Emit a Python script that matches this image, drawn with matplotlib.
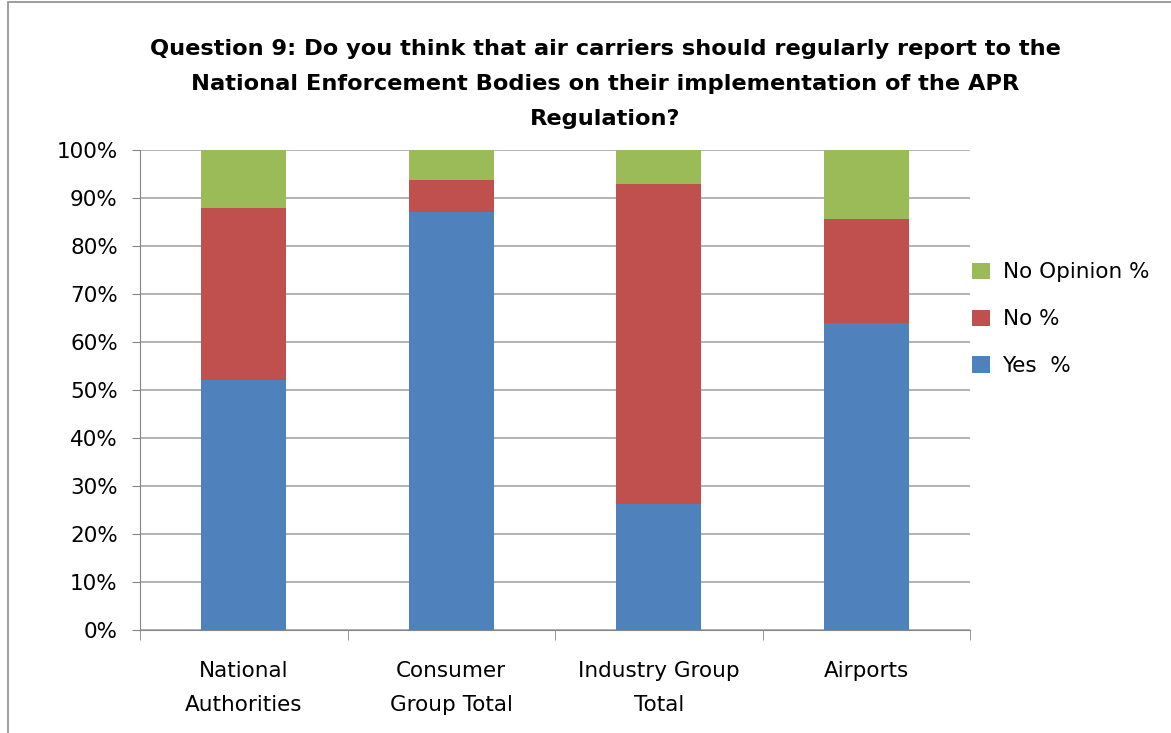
import numpy as np
import matplotlib
matplotlib.use("Agg")
from matplotlib import pyplot as plt
from matplotlib.patches import Rectangle

categories = ["National\nAuthorities", "Consumer\nGroup Total", "Industry Group\nTotal", "Airports"]
yes_pct = [52.0, 87.1, 26.3, 63.9]
no_pct = [36.0, 6.6, 66.6, 21.7]
no_opinion_pct = [12.0, 6.3, 7.1, 14.4]
y_ticks = [0, 10, 20, 30, 40, 50, 60, 70, 80, 90, 100]

BLUE = "#4F81BD"
RED = "#C0504D"
GREEN = "#9BBB59"
GRID = "#A6A6A6"

plt.rcParams["font.family"] = ["DejaVu Sans"]

fig = plt.figure(figsize=(11.71, 7.33), dpi=100)
ax = fig.add_axes([140 / 1171, 1 - 630 / 733, 830 / 1171, 480 / 733])

# outer chart border (only the left and top edges are inside the frame)
fig.patches.append(Rectangle((8 / 1171, -0.1), 1.2, 0.1 + 1 - 2 / 733,
                             transform=fig.transFigure, fill=False,
                             edgecolor="#8C8C8C", linewidth=1.2))

x = np.arange(len(categories))
width = 0.41
yes = np.array(yes_pct)
no = np.array(no_pct)
no_op = np.array(no_opinion_pct)
ax.bar(x, yes, width, color=BLUE, label="Yes  %", zorder=3)
ax.bar(x, no, width, bottom=yes, color=RED, label="No %", zorder=3)
ax.bar(x, no_op, width, bottom=yes + no, color=GREEN, label="No Opinion %", zorder=3)

ax.set_xlim(-0.5, len(categories) - 0.5)
ax.set_ylim(0, 100)
ax.set_yticks(y_ticks)
ax.set_yticklabels([f"{t}%" for t in y_ticks], fontsize=15.5)
ax.yaxis.grid(True, color=GRID, linewidth=1.2, zorder=0)

ax.set_xticks(np.arange(len(categories) + 1) - 0.5, minor=True)
ax.set_xticks(x)
ax.set_xticklabels(categories, fontsize=15.5, linespacing=1.9)
ax.tick_params(axis="x", which="major", length=0, pad=22)
ax.tick_params(axis="x", which="minor", length=7, color="#868686", direction="out")
ax.tick_params(axis="y", length=6, color="#868686", pad=10)

for side in ["top", "right"]:
    ax.spines[side].set_visible(False)
ax.spines["left"].set_color("#868686")
ax.spines["bottom"].set_color("#868686")

fig.text(605 / 1171, 1 - 39 / 733,
         "Question 9: Do you think that air carriers should regularly report to the\n"
         "National Enforcement Bodies on their implementation of the APR\n"
         "Regulation?",
         ha="center", va="top", fontsize=16.2, fontweight="bold",
         linespacing=1.95)

handles, labels = ax.get_legend_handles_labels()
fig.legend(handles[::-1], labels[::-1], loc="upper left",
           bbox_to_anchor=(953 / 1171, 1 - 243 / 733), frameon=False,
           fontsize=15.5, handlelength=0.8, handleheight=0.8,
           handletextpad=0.6, labelspacing=1.25)

fig.savefig("out.png", dpi=100)
